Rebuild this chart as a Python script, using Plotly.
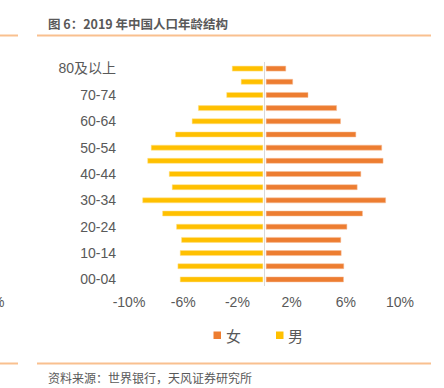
import plotly.graph_objects as go

age_groups = ["00-04", "05-09", "10-14", "15-19", "20-24", "25-29", "30-34", "35-39",
              "40-44", "45-49", "50-54", "55-59", "60-64", "65-69", "70-74", "75-79", "80及以上"]
female = [5.71, 5.73, 5.54, 5.51, 5.96, 7.11, 8.82, 6.72, 6.99, 8.63, 8.53, 6.62, 5.49, 5.20, 3.09, 1.96, 1.45]
male = [6.10, 6.27, 6.10, 6.00, 6.37, 7.40, 8.87, 6.69, 6.91, 8.50, 8.24, 6.45, 5.22, 4.76, 2.67, 1.60, 2.26]
x_tick_vals = [-10, -6, -2, 2, 6, 10]
x_tick_text = ["-10%", "-6%", "-2%", "2%", "6%", "10%"]
y_tick_labels = ["00-04", "10-14", "20-24", "30-34", "40-44", "50-54", "60-64", "70-74", "80及以上"]
series_names = ["女", "男"]
series_colors = ["#ED7D31", "#FFC000"]

FONT = "Liberation Sans, Arial, Noto Sans CJK SC, sans-serif"
CJK = "Noto Sans CJK SC, sans-serif"
TEXT = "#595959"
W, H = 444, 388
ML, MR, MT, MB = 129, 44, 62, 102
pw, ph = W - ML - MR, H - MT - MB


def px_x(p):
    return (p - ML) / pw


def px_y(p):
    return (H - MB - p) / ph


fig = go.Figure()
fig.add_trace(go.Bar(
    y=age_groups, x=female, orientation="h", name=series_names[0],
    marker=dict(color=series_colors[0], line=dict(color="#F6BE98", width=0.5)),
    width=0.38, base=0.12, showlegend=False,
))
fig.add_trace(go.Bar(
    y=age_groups, x=[-v for v in male], orientation="h", name=series_names[1],
    marker=dict(color=series_colors[1], line=dict(color="#FFE08A", width=0.5)),
    width=0.38, base=-0.12, showlegend=False,
))

fig.update_layout(
    width=W, height=H,
    margin=dict(l=ML, r=MR, t=MT, b=MB),
    paper_bgcolor="white", plot_bgcolor="white",
    barmode="overlay",
    font=dict(family=FONT, color=TEXT, size=14),
    showlegend=False,
    xaxis=dict(range=[-10, 10], tickvals=x_tick_vals, ticktext=x_tick_text,
               showgrid=False, zeroline=True, zerolinecolor="#D9D9D9", zerolinewidth=1,
               showline=False, ticks="", tickfont=dict(size=14, color=TEXT, family=FONT),
               ticklabelstandoff=6, fixedrange=True),
    yaxis=dict(type="category", categoryorder="array", categoryarray=age_groups,
               tickvals=[age_groups[i] for i in range(0, 17, 2)], ticktext=y_tick_labels,
               showgrid=False, showline=False, ticks="",
               tickfont=dict(size=14, color=TEXT, family=FONT), ticklabelstandoff=12,
               range=[-0.5, 16.5]),
)

# legend drawn as small squares + labels
legend_sq_x = [213.5, 276]
for name, col, sx in zip(series_names, series_colors, legend_sq_x):
    fig.add_shape(type="rect", xref="paper", yref="paper",
                  x0=px_x(sx), x1=px_x(sx + 7.5), y0=px_y(331.5), y1=px_y(339),
                  fillcolor=col, line=dict(width=0))
    fig.add_annotation(text=name, xref="paper", yref="paper",
                       x=px_x(sx + 10), y=px_y(335), xanchor="left", yanchor="middle",
                       showarrow=False, font=dict(size=15, color=TEXT, family=CJK))

line_color = "#F9C08F"
for y_px in (35.5, 363.5):
    fig.add_shape(type="line", xref="paper", yref="paper",
                  x0=px_x(37), x1=px_x(431), y0=px_y(y_px), y1=px_y(y_px),
                  line=dict(color=line_color, width=2))
    fig.add_shape(type="line", xref="paper", yref="paper",
                  x0=px_x(-2), x1=px_x(18), y0=px_y(y_px), y1=px_y(y_px),
                  line=dict(color=line_color, width=2))

fig.add_annotation(text="<b>图 6：2019 年中国人口年龄结构</b>", xref="paper", yref="paper",
                   x=px_x(46), y=px_y(23.5), xanchor="left", yanchor="middle", showarrow=False,
                   font=dict(size=12.5, color=TEXT, family=CJK))
fig.add_annotation(text="资料来源：世界银行，天风证券研究所", xref="paper", yref="paper",
                   x=px_x(46), y=px_y(377), xanchor="left", yanchor="middle", showarrow=False,
                   font=dict(size=12, color=TEXT, family=CJK))
fig.add_annotation(text="%", xref="paper", yref="paper",
                   x=px_x(6), y=px_y(302), xanchor="right", yanchor="middle", showarrow=False,
                   font=dict(size=14, color=TEXT, family=FONT))

fig.write_html("out.html", config={"displayModeBar": False},
               post_script="document.body.style.margin='0';document.body.style.overflow='hidden';")
